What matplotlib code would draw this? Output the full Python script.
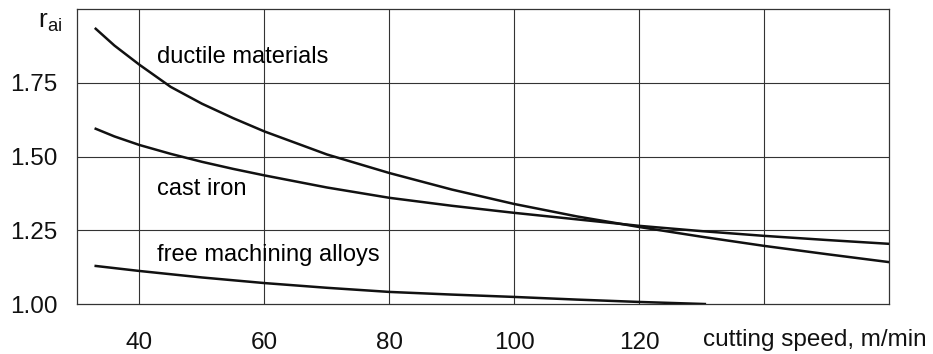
import numpy as np
import matplotlib
matplotlib.use("Agg")
import matplotlib.pyplot as plt

plt.rcParams['font.family'] = ['Liberation Sans', 'DejaVu Sans']
plt.rcParams['mathtext.fontset'] = 'custom'
plt.rcParams['mathtext.rm'] = 'Liberation Sans'
plt.rcParams['mathtext.it'] = 'Liberation Sans'

# Curves (cutting speed m/min -> r_ai)
speed_ductile = [33, 36, 40, 45, 50, 55, 60, 70, 80, 90, 100, 110, 120, 130, 140, 150, 160]
r_ductile = [1.933, 1.876, 1.811, 1.736, 1.679, 1.630, 1.585, 1.507, 1.444, 1.388, 1.339, 1.297,
             1.261, 1.228, 1.197, 1.169, 1.142]

speed_cast = [33, 36, 40, 45, 50, 55, 60, 70, 80, 90, 100, 110, 120, 130, 140, 150, 160]
r_cast = [1.594, 1.568, 1.539, 1.509, 1.482, 1.458, 1.436, 1.395, 1.360, 1.333, 1.309, 1.287,
          1.265, 1.247, 1.231, 1.217, 1.204]

speed_free = [33, 40, 50, 60, 70, 80, 90, 100, 110, 120, 130.5]
r_free = [1.129, 1.112, 1.090, 1.071, 1.055, 1.041, 1.032, 1.024, 1.015, 1.007, 1.000]

x_ticks = [40, 60, 80, 100, 120]
y_ticks = [1.00, 1.25, 1.50, 1.75]

fig = plt.figure(figsize=(9.33, 3.54), dpi=100)
ax = fig.add_axes([0.0825, 0.1412, 0.8705, 0.8334])

# grid
for gx in [40, 60, 80, 100, 120, 140]:
    ax.axvline(gx, color='#333333', lw=0.8, zorder=1)
for gy in [1.25, 1.50, 1.75]:
    ax.axhline(gy, color='#333333', lw=0.8, zorder=1)

ax.plot(speed_ductile, r_ductile, color='#111111', lw=1.8, zorder=3)
ax.plot(speed_cast, r_cast, color='#111111', lw=1.8, zorder=3)
ax.plot(speed_free, r_free, color='#111111', lw=1.8, zorder=3)

ax.text(42.8, 1.838, 'ductile materials', fontsize=17, va='center', ha='left')
ax.text(42.8, 1.39, 'cast iron', fontsize=17, va='center', ha='left')
ax.text(42.8, 1.166, 'free machining alloys', fontsize=17, va='center', ha='left')

ax.set_xlim(30, 160)
ax.set_ylim(1.0, 2.0)
ax.set_xticks(x_ticks)
ax.set_xticklabels([str(t) for t in x_ticks])
ax.set_yticks(y_ticks)
ax.set_yticklabels(['%.2f' % t for t in y_ticks])
ax.tick_params(axis='both', length=0, labelsize=17.5, colors='#111111')
ax.tick_params(axis='x', pad=20)
ax.tick_params(axis='y', pad=14)

for s in ax.spines.values():
    s.set_color('#333333')
    s.set_linewidth(0.9)

fig.text(703 / 933, 1 - 340 / 354, 'cutting speed, m/min', fontsize=17.5,
         va='center', ha='left', color='#111111')
fig.text(38 / 933, 1 - 22 / 354, r'$\mathrm{r_{ai}}$', fontsize=19,
         va='center', ha='left', color='#111111')

plt.savefig('out.png', dpi=100)
